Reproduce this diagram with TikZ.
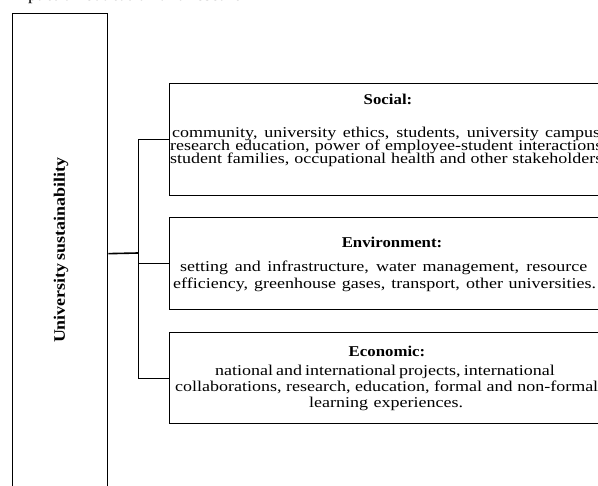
\documentclass[tikz,border=0pt]{standalone}
\usepackage{fontspec}
\setmainfont{Liberation Serif}[FakeStretch=1.12]
\newfontfamily\bodyfont{Liberation Serif}[FakeStretch=1.2]
\begin{document}
\begin{tikzpicture}[x=1pt,y=-1pt,
  box/.style={draw, line width=1.3pt, rectangle, inner sep=0pt, anchor=north west},
  txt/.style={anchor=base west, inner sep=0pt, font=\bodyfont\fontsize{15}{17}\selectfont},
  head/.style={anchor=base, inner sep=0pt, font=\fontsize{15}{17}\selectfont\bfseries},
  link/.style={line width=0.9pt},
  trunk/.style={line width=1.6pt}]
\useasboundingbox (0,0) rectangle (598,486);
\clip (0,0) rectangle (598,486);

% caption line of the page above, cut by the frame
\node[txt] (cap) at (8,0.5) {Impact on education and research};

% main pillar
\node[box, minimum width=95pt, minimum height=480pt] (main) at (12,13) {};
\node[rotate=90, inner sep=0pt, font=\fontsize{16}{18}\selectfont\bfseries] (title) at (61,253)
  {\makebox[180pt][s]{University sustainability}};

% the three dimensions
\node[box, minimum width=433pt, minimum height=112pt] (soc) at (169,83) {};
\node[box, minimum width=433pt, minimum height=92pt] (env) at (169,217) {};
\node[box, minimum width=433pt, minimum height=91pt] (eco) at (169,332) {};

% Social
\node[head] (sochead) at (388,105) {Social:};
\node[txt] (soc1) at (172,138) {\makebox[428pt][s]{community, university ethics, students, university campus}};
\node[txt] (soc2) at (170,151) {\makebox[432pt][s]{research education, power of employee-student interactions}};
\node[txt] (soc3) at (170,164) {\makebox[432pt][s]{student families, occupational health and other stakeholders}};

% Environment
\node[head] (envhead) at (392,248) {Environment:};
\node[txt] (env1) at (180,272) {\makebox[407pt][s]{setting and infrastructure, water management, resource}};
\node[txt] (env2) at (173,289) {\makebox[423pt][s]{efficiency, greenhouse gases, transport, other universities.}};

% Economic
\node[head] (ecohead) at (387,357) {Economic:};
\node[txt] (eco1) at (215,376) {\makebox[328pt][s]{national and international projects, international}};
\node[txt] (eco2) at (175,392) {\makebox[423pt][s]{collaborations, research, education, formal and non-formal}};
\node[txt] (eco3) at (309,408) {\makebox[154pt][s]{learning experiences.}};

% connectors
\coordinate (bus) at (138,253);
\draw[trunk] (main.east) -- (bus);
\draw[link] (bus |- soc.west) -- (bus |- eco.west);
\draw[link] (bus |- soc.west) -- (soc.west);
\draw[link] (bus |- env.west) -- (env.west);
\draw[link] (bus |- eco.west) -- (eco.west);
\end{tikzpicture}
\end{document}
